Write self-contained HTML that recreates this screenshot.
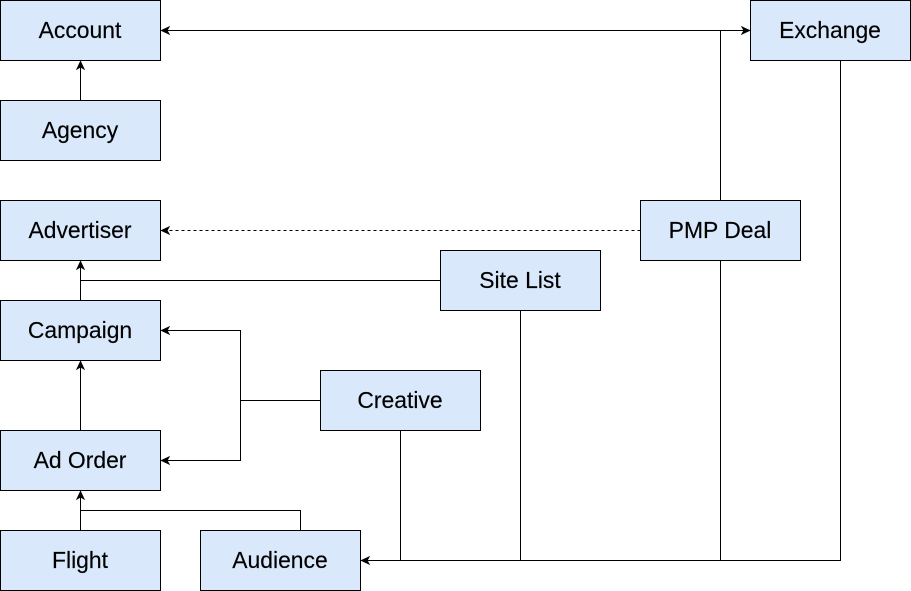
<!DOCTYPE html>
<html><head><meta charset="utf-8"><style>
html,body{margin:0;padding:0;background:#fff;width:911px;height:591px;overflow:hidden}
svg{display:block}
text{font-family:"Liberation Sans",Arial,sans-serif;font-size:22.9px;fill:#000;stroke:#000;stroke-width:0.15px;text-anchor:middle}
rect{fill:#dae8fc;stroke:#000;stroke-width:1}
.l{fill:none;stroke:#000;stroke-width:1}
.a{fill:#000;stroke:#000;stroke-width:1}
</style></head><body>
<svg width="911" height="591" viewBox="0 0 911 591" xmlns="http://www.w3.org/2000/svg">
<!-- connectors -->
<path class="l" d="M80.5 100.5V67"/>
<path class="l" d="M80.5 300.5V267"/>
<path class="l" d="M80.5 430.5V367"/>
<path class="l" d="M80.5 530.5V497"/>
<path class="l" d="M167 30.5H744"/>
<path class="l" d="M720.5 200.5V30.5"/>
<path class="l" d="M640.5 230.5H167" stroke-dasharray="3 3"/>
<path class="l" d="M440.5 280.5H80.5"/>
<path class="l" d="M320.5 400.5H240.5"/>
<path class="l" d="M167 330.5H240.5V460.5H167"/>
<path class="l" d="M300.5 530.5V510.5H80.5"/>
<path class="l" d="M840.5 60.5V560.5H367"/>
<path class="l" d="M720.5 260.5V560.5"/>
<path class="l" d="M520.5 310.5V560.5"/>
<path class="l" d="M400.5 430.5V560.5"/>
<!-- arrowheads -->
<path class="a" d="M80.5 61.5L84 69L80.5 67L77 69Z"/>
<path class="a" d="M80.5 261.5L84 269L80.5 267L77 269Z"/>
<path class="a" d="M80.5 361.5L84 369L80.5 367L77 369Z"/>
<path class="a" d="M80.5 491.5L84 499L80.5 497L77 499Z"/>
<path class="a" d="M161.5 30.5L169 27L167 30.5L169 34Z"/>
<path class="a" d="M749.5 30.5L742 27L744 30.5L742 34Z"/>
<path class="a" d="M161.5 230.5L169 227L167 230.5L169 234Z"/>
<path class="a" d="M161.5 330.5L169 327L167 330.5L169 334Z"/>
<path class="a" d="M161.5 460.5L169 457L167 460.5L169 464Z"/>
<path class="a" d="M361.5 560.5L369 557L367 560.5L369 564Z"/>
<!-- nodes -->
<rect x="0.5" y="0.5" width="160" height="60"/><text x="80" y="38">Account</text>
<rect x="0.5" y="100.5" width="160" height="60"/><text x="80" y="138">Agency</text>
<rect x="0.5" y="200.5" width="160" height="60"/><text x="80" y="238">Advertiser</text>
<rect x="0.5" y="300.5" width="160" height="60"/><text x="80" y="338">Campaign</text>
<rect x="0.5" y="430.5" width="160" height="60"/><text x="80" y="468">Ad Order</text>
<rect x="0.5" y="530.5" width="160" height="60"/><text x="80" y="568">Flight</text>
<rect x="200.5" y="530.5" width="160" height="60"/><text x="280" y="568">Audience</text>
<rect x="320.5" y="370.5" width="160" height="60"/><text x="400" y="408">Creative</text>
<rect x="440.5" y="250.5" width="160" height="60"/><text x="520" y="288">Site List</text>
<rect x="640.5" y="200.5" width="160" height="60"/><text x="720" y="238">PMP Deal</text>
<rect x="750.5" y="0.5" width="160" height="60"/><text x="830" y="38">Exchange</text>
</svg>
</body></html>
